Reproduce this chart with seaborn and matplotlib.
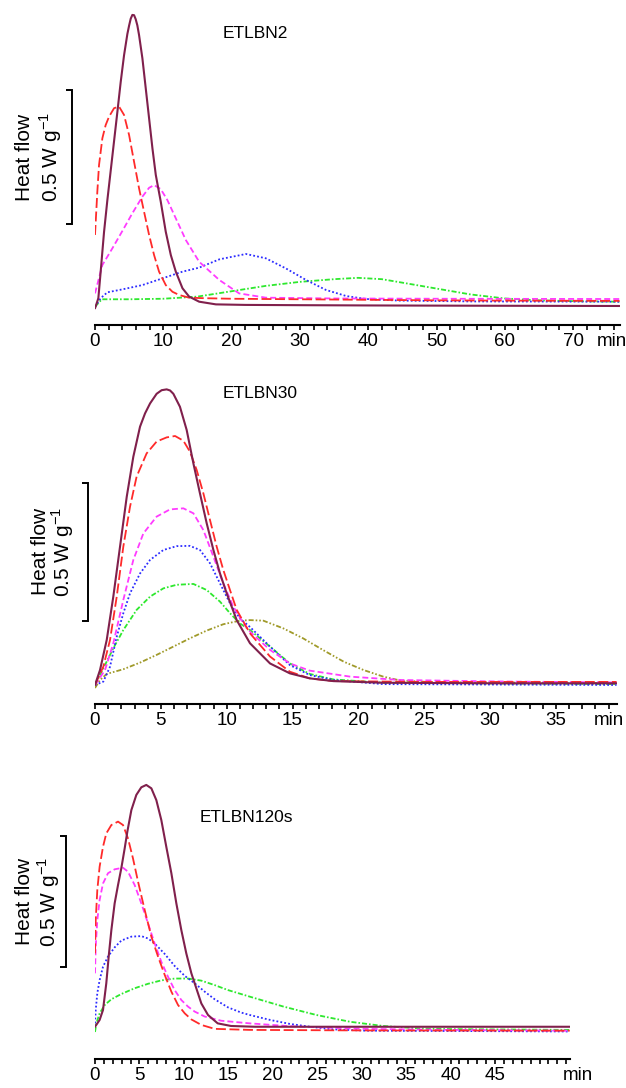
import matplotlib
matplotlib.use("Agg")
import matplotlib.pyplot as plt
import matplotlib.transforms as mtransforms
from matplotlib.ticker import FixedLocator, NullFormatter
import pandas as pd
import seaborn as sns

# ---------------------------------------------------------------------------
# Heat-flow curves (time in min, heat flow in W/g above the panel baseline)
# ---------------------------------------------------------------------------

# ETLBN2
N2_SOLID_T = [0.0, 0.49, 0.83, 1.32, 1.81, 2.30, 2.79, 3.28, 3.76, 4.25, 4.74, 5.0, 5.23, 5.47,
              5.72, 5.96, 6.20, 6.45, 6.94, 7.43, 7.92, 8.41, 8.90, 9.63, 10.36, 11.10, 11.83,
              12.81, 13.78, 15.25, 17.70, 22.0, 30.0, 40.0, 55.0, 76.8]
N2_SOLID_Y = [0.006, 0.044, 0.143, 0.290, 0.410, 0.520, 0.630, 0.740, 0.850, 0.950, 1.030,
              1.062, 1.087, 1.101, 1.100, 1.085, 1.062, 1.026, 0.939, 0.827, 0.715, 0.603,
              0.504, 0.404, 0.292, 0.205, 0.143, 0.081, 0.050, 0.031, 0.021, 0.019, 0.018,
              0.017, 0.016, 0.015]
N2_LONGDASH_T = [0.0, 0.34, 0.59, 1.08, 1.56, 2.05, 2.79, 3.52, 4.25, 4.99, 5.72, 6.45, 7.18,
                 7.92, 8.65, 9.38, 10.36, 11.34, 12.32, 13.78, 16.0, 20.0, 30.0, 40.0, 50.0,
                 60.0, 76.8]
N2_LONGDASH_Y = [0.280, 0.441, 0.541, 0.641, 0.690, 0.721, 0.753, 0.759, 0.728, 0.653, 0.553,
                 0.454, 0.367, 0.280, 0.205, 0.143, 0.093, 0.068, 0.056, 0.046, 0.044, 0.042,
                 0.040, 0.038, 0.036, 0.035, 0.034]
N2_DASH_T = [0.0, 1.08, 2.54, 4.01, 5.47, 6.94, 7.92, 8.65, 9.63, 10.6, 11.83, 13.3, 15.25,
             18.2, 21.1, 25.0, 35.0, 50.0, 76.8]
N2_DASH_Y = [0.062, 0.168, 0.230, 0.295, 0.361, 0.423, 0.456, 0.466, 0.451, 0.410, 0.342,
             0.261, 0.180, 0.112, 0.062, 0.046, 0.043, 0.042, 0.041]
N2_DOT_T = [0.0, 0.83, 1.81, 4.01, 6.94, 9.87, 12.8, 15.25, 18.2, 22.1, 25.0, 27.96, 30.9,
            33.8, 36.8, 39.7, 44.6, 55.0, 76.8]
N2_DOT_Y = [0.012, 0.044, 0.066, 0.077, 0.093, 0.118, 0.143, 0.158, 0.189, 0.209, 0.193,
            0.155, 0.112, 0.075, 0.052, 0.041, 0.035, 0.032, 0.031]
N2_DASHDOT_T = [0.0, 1.0, 5.0, 10.0, 15.0, 20.0, 25.0, 30.0, 35.0, 38.5, 42.0, 45.0, 50.0,
                55.0, 60.0, 65.0, 70.0, 76.8]
N2_DASHDOT_Y = [0.012, 0.040, 0.040, 0.042, 0.050, 0.070, 0.090, 0.105, 0.115, 0.120, 0.115,
                0.102, 0.080, 0.058, 0.043, 0.036, 0.033, 0.031]

# ETLBN30
N30_SOLID_T = [0.0, 0.38, 0.89, 1.39, 1.90, 2.41, 2.91, 3.42, 3.80, 4.18, 4.68, 5.06, 5.44,
               5.70, 5.95, 6.45, 6.96, 7.47, 7.97, 8.48, 8.99, 9.49, 10.0, 10.76, 11.77, 13.29,
               14.8, 16.3, 18.1, 21.9, 30.0, 39.6]
N30_SOLID_Y = [0.011, 0.065, 0.174, 0.331, 0.512, 0.693, 0.838, 0.947, 0.995, 1.031, 1.066,
               1.079, 1.082, 1.078, 1.066, 1.019, 0.935, 0.814, 0.705, 0.597, 0.500, 0.415,
               0.343, 0.246, 0.162, 0.089, 0.053, 0.035, 0.025, 0.019, 0.017, 0.017]
N30_LONGDASH_T = [0.0, 0.63, 1.14, 1.65, 2.15, 2.66, 3.16, 3.92, 4.68, 5.44, 6.08, 6.71, 7.21,
                  7.72, 8.23, 8.73, 9.24, 9.74, 10.25, 10.76, 11.77, 13.29, 14.8, 16.3, 18.1,
                  25.0, 39.6]
N30_LONGDASH_Y = [0.011, 0.077, 0.174, 0.331, 0.512, 0.657, 0.766, 0.850, 0.893, 0.908, 0.913,
                  0.896, 0.856, 0.790, 0.705, 0.609, 0.512, 0.428, 0.355, 0.283, 0.198, 0.114,
                  0.059, 0.035, 0.025, 0.022, 0.022]
N30_DASH_T = [0.0, 0.76, 1.39, 2.15, 2.91, 3.67, 4.68, 5.69, 6.71, 7.47, 8.23, 8.99, 9.74,
              10.50, 11.26, 11.77, 13.29, 14.8, 16.3, 19.4, 23.2, 30.0, 39.6]
N30_DASH_Y = [0.011, 0.065, 0.162, 0.319, 0.464, 0.560, 0.621, 0.647, 0.651, 0.633, 0.572,
              0.476, 0.379, 0.295, 0.234, 0.204, 0.138, 0.089, 0.063, 0.041, 0.029, 0.024,
              0.020]
N30_DOT_T = [0.0, 0.63, 1.14, 1.65, 2.15, 2.66, 3.42, 4.18, 5.19, 6.20, 7.21, 7.97, 8.73,
             9.49, 10.25, 11.0, 11.77, 13.29, 14.8, 16.3, 18.1, 21.9, 39.6]
N30_DOT_Y = [0.011, 0.023, 0.077, 0.186, 0.271, 0.343, 0.415, 0.464, 0.500, 0.514, 0.515,
             0.500, 0.452, 0.379, 0.307, 0.252, 0.221, 0.150, 0.083, 0.047, 0.029, 0.014,
             0.011]
N30_DASHDOT_T = [0.0, 0.63, 1.39, 2.15, 3.16, 4.18, 5.19, 6.20, 7.47, 8.48, 9.49, 10.25, 11.0,
                 11.77, 13.29, 14.8, 16.3, 18.1, 21.9, 39.6]
N30_DASHDOT_Y = [0.011, 0.071, 0.144, 0.210, 0.283, 0.331, 0.361, 0.374, 0.377, 0.355, 0.313,
                 0.271, 0.234, 0.210, 0.150, 0.089, 0.051, 0.031, 0.019, 0.014]
N30_DASHDOTDOT_T = [0.0, 0.38, 0.89, 2.15, 3.42, 4.68, 5.95, 7.21, 8.48, 9.74, 11.0, 11.77,
                    12.78, 14.3, 15.8, 17.3, 18.9, 20.4, 21.9, 23.2, 25.7, 39.6]
N30_DASHDOTDOT_Y = [0.0, 0.029, 0.051, 0.068, 0.092, 0.120, 0.150, 0.180, 0.208, 0.231, 0.244,
                    0.246, 0.244, 0.216, 0.180, 0.138, 0.095, 0.065, 0.041, 0.027, 0.021,
                    0.018]

# ETLBN120s
N120_SOLID_T = [0.0, 0.52, 0.90, 1.27, 1.54, 1.84, 2.21, 2.59, 2.96, 3.34, 3.64, 4.09, 4.65,
                5.21, 5.77, 6.34, 6.90, 7.46, 8.02, 8.59, 9.15, 9.71, 10.27, 10.84, 11.21,
                11.96, 12.71, 13.8, 15.3, 18.0, 25.0, 53.4]
N120_SOLID_Y = [0.020, 0.046, 0.084, 0.186, 0.288, 0.389, 0.491, 0.561, 0.625, 0.701, 0.765,
                0.847, 0.905, 0.934, 0.943, 0.930, 0.885, 0.809, 0.707, 0.606, 0.491, 0.389,
                0.300, 0.224, 0.186, 0.109, 0.065, 0.033, 0.023, 0.020, 0.020, 0.020]
N120_LONGDASH_T = [0.0, 0.08, 0.26, 0.52, 0.90, 1.27, 1.84, 2.59, 3.15, 3.71, 4.27, 4.84, 5.59,
                   6.34, 7.09, 7.84, 8.59, 9.34, 10.1, 10.84, 11.96, 13.46, 17.4, 30.0, 53.4]
N120_LONGDASH_Y = [0.300, 0.427, 0.542, 0.631, 0.707, 0.758, 0.790, 0.803, 0.790, 0.739,
                   0.663, 0.574, 0.466, 0.364, 0.288, 0.218, 0.154, 0.103, 0.071, 0.048,
                   0.027, 0.012, 0.008, 0.006, 0.005]
N120_DASH_T = [0.0, 0.08, 0.26, 0.52, 0.90, 1.46, 2.21, 3.15, 3.71, 4.46, 5.21, 5.96, 6.71,
               7.46, 8.21, 8.96, 9.71, 10.46, 11.21, 12.34, 14.2, 17.4, 22.0, 30.0, 40.0, 53.4]
N120_DASH_Y = [0.224, 0.326, 0.427, 0.504, 0.567, 0.606, 0.621, 0.627, 0.612, 0.561, 0.491,
               0.415, 0.338, 0.268, 0.211, 0.160, 0.122, 0.097, 0.078, 0.059, 0.043, 0.033,
               0.022, 0.012, 0.008, 0.005]
N120_DOT_T = [0.0, 0.08, 0.26, 0.52, 0.90, 1.46, 2.21, 2.96, 4.09, 5.21, 5.96, 6.71, 7.84,
              8.96, 10.1, 11.21, 12.34, 13.46, 14.96, 16.46, 17.4, 19.7, 21.9, 24.2, 26.8,
              30.6, 53.4]
N120_DOT_Y = [0.033, 0.084, 0.148, 0.198, 0.249, 0.288, 0.323, 0.349, 0.364, 0.366, 0.357,
              0.338, 0.298, 0.252, 0.214, 0.186, 0.154, 0.125, 0.094, 0.074, 0.065, 0.046,
              0.031, 0.020, 0.010, 0.005, 0.002]
N120_DASHDOT_T = [0.0, 0.15, 0.52, 1.09, 1.84, 2.96, 4.46, 5.96, 7.46, 8.96, 10.46, 11.96,
                  13.46, 14.96, 17.4, 21.2, 24.9, 28.7, 32.4, 36.2, 39.9, 53.4]
N120_DASHDOT_Y = [0.0, 0.033, 0.071, 0.103, 0.125, 0.145, 0.167, 0.184, 0.197, 0.204, 0.204,
                  0.196, 0.179, 0.160, 0.135, 0.097, 0.065, 0.039, 0.023, 0.014, 0.011, 0.008]

PANEL_TITLES = ["ETLBN2", "ETLBN30", "ETLBN120s"]
TICK_STEP = [2, 1, 1]          # min between ticks
LABEL_STEP = [10, 5, 5]        # min between tick labels
LABEL_MAX = [70, 35, 45]       # last labelled tick
SCALE_BAR = 0.5                # W/g
Y_TEXT = "Heat flow"
UNIT_TEXT = r"0.5 W g$^{\mathregular{-1}}$"
X_UNIT = "min"

# ---------------------------------------------------------------------------
# Styling
# ---------------------------------------------------------------------------
STYLE = {
    "solid":      dict(color="#80204c", lw=1.5, ls="-"),
    "longdash":   dict(color="#ff2a2a", lw=1.3, ls=(0, (5.5, 2.0))),
    "dash":       dict(color="#ff3cff", lw=1.3, ls=(0, (3.3, 1.7))),
    "dot":        dict(color="#2c2cff", lw=1.3, ls=(0, (1.0, 1.2))),
    "dashdot":    dict(color="#2ee82e", lw=1.3, ls=(0, (2.8, 1.1, 0.9, 1.1))),
    "dashdotdot": dict(color="#a09a2a", lw=1.3, ls=(0, (2.8, 1.1, 0.9, 1.1, 0.9, 1.1))),
}

PANEL_SERIES = [
    [("dashdot", N2_DASHDOT_T, N2_DASHDOT_Y), ("dot", N2_DOT_T, N2_DOT_Y),
     ("dash", N2_DASH_T, N2_DASH_Y), ("longdash", N2_LONGDASH_T, N2_LONGDASH_Y),
     ("solid", N2_SOLID_T, N2_SOLID_Y)],
    [("dashdotdot", N30_DASHDOTDOT_T, N30_DASHDOTDOT_Y), ("dashdot", N30_DASHDOT_T, N30_DASHDOT_Y),
     ("dot", N30_DOT_T, N30_DOT_Y), ("dash", N30_DASH_T, N30_DASH_Y),
     ("longdash", N30_LONGDASH_T, N30_LONGDASH_Y), ("solid", N30_SOLID_T, N30_SOLID_Y)],
    [("dashdot", N120_DASHDOT_T, N120_DASHDOT_Y), ("dot", N120_DOT_T, N120_DOT_Y),
     ("dash", N120_DASH_T, N120_DASH_Y), ("longdash", N120_LONGDASH_T, N120_LONGDASH_Y),
     ("solid", N120_SOLID_T, N120_SOLID_Y)],
]

# Layout in figure pixels
W, H = 626, 1088
LAYOUT = [
    dict(left=95, right=620, top=5, bottom=325, px_per_min=6.83, zero_px=310, px_per_unit=268,
         bar_px=72, bar_lo=0.321, text_px=(30, 58), title_xy=(223, 38), unit_x=75.7),
    dict(left=95, right=617, top=375, bottom=704.3, px_per_min=13.17, zero_px=688, px_per_unit=276,
         bar_px=87.5, bar_lo=0.243, text_px=(46, 70), title_xy=(223, 398), unit_x=39.0),
    dict(left=95, right=570, top=775, bottom=1059.3, px_per_min=8.89, zero_px=1032, px_per_unit=262,
         bar_px=66, bar_lo=0.248, text_px=(30, 56), title_xy=(200, 822), unit_x=54.3),
]

sns.set_theme(style="white")
plt.rcParams["font.family"] = ["Liberation Sans", "DejaVu Sans"]
plt.rcParams["mathtext.fontset"] = "custom"
plt.rcParams["mathtext.rm"] = "Liberation Sans"
plt.rcParams["axes.unicode_minus"] = True

fig = plt.figure(figsize=(W / 100, H / 100), dpi=100, facecolor="white")

for i, lay in enumerate(LAYOUT):
    rect = [lay["left"] / W, 1 - lay["bottom"] / H,
            (lay["right"] - lay["left"]) / W, (lay["bottom"] - lay["top"]) / H]
    ax = fig.add_axes(rect)
    ax.patch.set_alpha(0)

    for key, t, y in PANEL_SERIES[i]:
        st = STYLE[key]
        df = pd.DataFrame({"time": t, "heat": y})
        sns.lineplot(data=df, x="time", y="heat", ax=ax, color=st["color"],
                     linewidth=st["lw"], linestyle=st["ls"], estimator=None,
                     sort=False, errorbar=None, legend=False)

    xmax = (lay["right"] - lay["left"]) / lay["px_per_min"]
    ylo = (lay["zero_px"] - lay["bottom"]) / lay["px_per_unit"]
    yhi = (lay["zero_px"] - lay["top"]) / lay["px_per_unit"]
    ax.set_xlim(0, xmax)
    ax.set_ylim(ylo, yhi)
    ax.set_xlabel("")
    ax.set_ylabel("")

    for side in ("left", "top", "right"):
        ax.spines[side].set_visible(False)
    ax.spines["bottom"].set_linewidth(1.5)
    ax.spines["bottom"].set_color("black")
    ax.set_yticks([])

    step = TICK_STEP[i]
    all_ticks = [k * step for k in range(int(xmax // step) + 1)]
    major = [v for v in all_ticks if v % LABEL_STEP[i] == 0 and v <= LABEL_MAX[i]]
    minor = [v for v in all_ticks if v not in major]
    ax.xaxis.set_major_locator(FixedLocator(major))
    ax.xaxis.set_minor_locator(FixedLocator(minor))
    ax.xaxis.set_minor_formatter(NullFormatter())
    ax.set_xticklabels([str(v) for v in major])
    ax.tick_params(axis="x", which="both", direction="out", length=3.4, width=1.2,
                   color="black", bottom=True, labelsize=13.5, pad=2.2, labelcolor="black")

    ax.annotate(X_UNIT, xy=(lay["unit_x"], 0), xycoords=ax.get_xaxis_transform(),
                xytext=(0, -5.6), textcoords="offset points", ha="center", va="top",
                fontsize=13.5, color="black", annotation_clip=False)

    # scale bracket drawn in data units on the heat-flow axis
    trans = mtransforms.blended_transform_factory(fig.transFigure, ax.transData)
    y0 = lay["bar_lo"]
    y1 = y0 + SCALE_BAR
    xb = lay["bar_px"] / W
    xs = (lay["bar_px"] - 6) / W
    ax.plot([xs, xb, xb, xs], [y1, y1, y0, y0], transform=trans, color="black",
            lw=1.4, clip_on=False, solid_joinstyle="miter", solid_capstyle="butt")

    ymid = (y0 + y1) / 2
    ax.text(lay["text_px"][0] / W, ymid, Y_TEXT, transform=trans, rotation=90,
            rotation_mode="anchor", ha="center", va="baseline", fontsize=15, color="black")
    ax.text(lay["text_px"][1] / W, ymid, UNIT_TEXT, transform=trans, rotation=90,
            rotation_mode="anchor", ha="center", va="baseline", fontsize=15, color="black")

    tx, ty = lay["title_xy"]
    fig.text(tx / W, 1 - ty / H, PANEL_TITLES[i], ha="left", va="baseline",
             fontsize=12.5, color="black")

fig.savefig("out.png", dpi=100, facecolor="white")
